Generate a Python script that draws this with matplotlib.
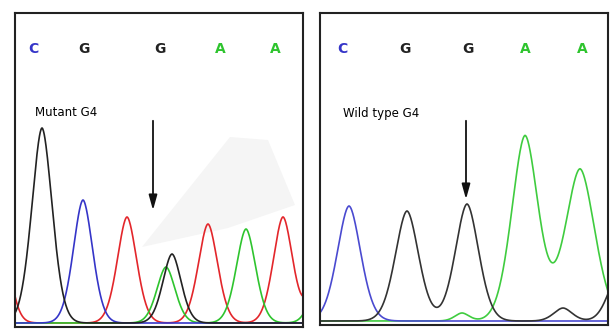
import matplotlib.pyplot as plt
import numpy as np

# base calls above each trace
left_bases = ['C', 'G', 'G', 'A', 'A']
left_base_x = [33, 84, 160, 220, 275]
right_bases = ['C', 'G', 'G', 'A', 'A']
right_base_x = [342, 405, 468, 525, 582]

# peaks as (centre, height, width)
left_black = [(42, 195, 10), (172, 69, 9)]
left_blue = [(83, 123, 9.5)]
left_red = [(-1, 110, 9), (127, 106, 9.5), (208, 99, 9.5), (283, 106, 9.5), (324, 110, 9)]
left_green = [(166, 56, 9), (246, 94, 9.5), (322, 60, 9)]

right_blue = [(349, 115, 11.5)]
right_black = [(407, 110, 11.5), (467, 117, 11.5), (563, 13, 9), (618, 45, 10)]
right_green = [(462, 8, 7), (525, 185, 13), (580, 152, 14.5)]

# faint grey smudge in the mutant panel
smudge_x = [142, 230, 268, 295, 228]
smudge_y = [80, 190, 187, 122, 99]

base_level = 4


def trace(x, peaks):
    y = np.zeros_like(x) + base_level
    for c, h, s in peaks:
        y += h * np.exp(-0.5 * np.abs((x - c) / s) ** 1.8)
    return y


fig = plt.figure(figsize=(6.13, 3.29), dpi=100)
fig.patch.set_facecolor('white')
W, H = 613, 329

axL = fig.add_axes([15 / W, 1 - 327 / H, 288 / W, 314 / H])
axR = fig.add_axes([320 / W, 1 - 325 / H, 288 / W, 312 / H])

font = ['Liberation Sans Narrow', 'DejaVu Sans']

# mutant panel
x = np.linspace(15, 303, 800)
axL.fill(smudge_x, smudge_y, color='#f5f5f5', lw=0, zorder=0)
axL.plot(x, trace(x, left_red), color='#e3262b', lw=1.2)
axL.plot(x, trace(x, left_green), color='#2ec42e', lw=1.2)
axL.plot(x, trace(x, left_blue), color='#3535c8', lw=1.2)
axL.plot(x, trace(x, left_black), color='#222222', lw=1.2)
axL.set_xlim(15, 303)
axL.set_ylim(0, 314)
cols = {'C': '#3535c8', 'G': '#222222', 'A': '#2ec42e'}
for b, bx in zip(left_bases, left_base_x):
    axL.text(bx, 278, b, color=cols[b], fontsize=10, fontweight='bold',
             family=font, ha='center', va='center')
axL.text(35, 215, 'Mutant G4', fontsize=8.5, family=font, ha='left', va='center')
axL.annotate('', xy=(153, 114), xytext=(153, 209),
             arrowprops=dict(arrowstyle='-|>,head_length=0.9,head_width=0.25',
                             color='#111111', lw=1.3))

# wild type panel
x = np.linspace(320, 608, 800)
axR.plot(x, trace(x, right_green), color='#3fcc3f', lw=1.2)
axR.plot(x, trace(x, right_blue), color='#4a4ad0', lw=1.2)
axR.plot(x, trace(x, right_black), color='#333333', lw=1.2)
axR.set_xlim(320, 608)
axR.set_ylim(0, 312)
for b, bx in zip(right_bases, right_base_x):
    axR.text(bx, 276, b, color=cols[b], fontsize=10, fontweight='bold',
             family=font, ha='center', va='center')
axR.text(343, 212, 'Wild type G4', fontsize=8.5, family=font, ha='left', va='center')
axR.annotate('', xy=(466, 123), xytext=(466, 207),
             arrowprops=dict(arrowstyle='-|>,head_length=0.9,head_width=0.25',
                             color='#111111', lw=1.3))

for ax in (axL, axR):
    ax.set_xticks([])
    ax.set_yticks([])
    for sp in ax.spines.values():
        sp.set_color('#222222')
        sp.set_linewidth(1.5)

fig.savefig('out.png', dpi=100)
